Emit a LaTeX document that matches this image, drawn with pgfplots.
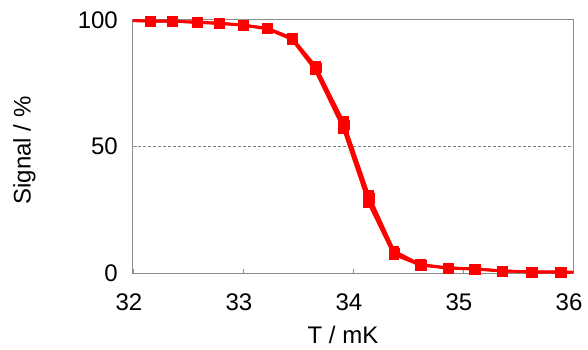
\documentclass[border=0pt]{standalone}
\usepackage{pgfplots}
\pgfplotsset{compat=1.18}
\usepackage{fontspec}
\setmainfont{Liberation Sans}
\pgfplotsset{myline/.style={color=red, line width=2.6pt, mark=square*, mark size=4.8pt, mark options={solid, fill=red, draw=red, line width=0.4pt}}}
\begin{document}
\begin{tikzpicture}
\fontsize{24}{28}\selectfont
\begin{axis}[
  scale only axis,
  width=440pt, height=253pt,
  xmin=32, xmax=36, ymin=0, ymax=100,
  xtick={32,33,34,35,36},
  ytick={0,50,100},
  tick align=inside,
  major tick length=4pt,
  tick style={draw=gray!90, line width=0.8pt},
  xtick pos=bottom, ytick pos=left,
  axis line style={draw=gray!90, line width=1pt},
  extra y ticks={50},
  extra y tick labels={},
  extra y tick style={grid=major, grid style={densely dashed, gray, line width=0.5pt}},
  /pgf/number format/assume math mode=true,
  ticklabel style={font=\fontsize{24}{28}\selectfont},
  label style={font=\fontsize{24}{28}\selectfont},
  yticklabel style={xshift=-7pt},
  xticklabel style={yshift=-13pt, xshift=-4pt},
  xlabel={T / mK},
  ylabel={Signal / \%},
  xlabel style={yshift=1pt, xshift=-10pt},
  ylabel style={yshift=26pt, xshift=-4pt},
  clip=true,
]
\addplot[myline] coordinates {
(31.95,99.8) (32.155,99.6) (32.355,99.6) (32.58,99.2) (32.78,98.8) (33.0,98.0) (33.22,96.8) (33.445,92.9) (33.655,82.0) (33.91,60.0) (34.14,31.0) (34.37,8.8) (34.61,3.4) (34.86,2.1) (35.1,1.7) (35.35,0.9) (35.62,0.5) (35.88,0.4) (36.05,0.3)
};
\addplot[myline] coordinates {
(31.95,99.8) (32.155,99.5) (32.355,99.5) (32.58,99.0) (32.78,98.6) (33.0,97.9) (33.22,96.5) (33.445,92.3) (33.655,80.3) (33.91,57.3) (34.14,27.8) (34.37,7.3) (34.61,3.1) (34.86,1.9) (35.1,1.5) (35.35,0.8) (35.62,0.4) (35.88,0.4) (36.05,0.3)
};
\addplot[myline] coordinates {
(31.95,99.8) (32.16,99.6) (32.36,99.5) (32.585,99.1) (32.785,98.7) (33.005,98.0) (33.225,96.6) (33.45,92.6) (33.665,81.2) (33.92,58.6) (34.15,29.5) (34.38,8.0) (34.62,3.2) (34.87,2.0) (35.11,1.6) (35.36,0.8) (35.63,0.4) (35.89,0.4) (36.05,0.3)
};
\end{axis}
\pgfresetboundingbox
\useasboundingbox ([shift={(-133pt,-77pt)}]current axis.south west) rectangle ([shift={(15pt,20pt)}]current axis.north east);
\end{tikzpicture}
\end{document}
